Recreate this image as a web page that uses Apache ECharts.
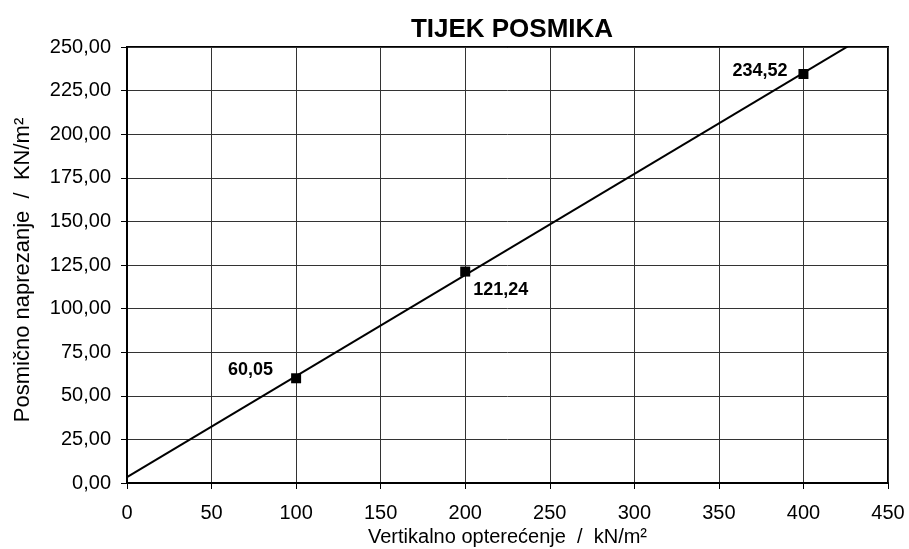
<!DOCTYPE html>
<html>
<head>
<meta charset="utf-8">
<script src="https://cdn.jsdelivr.net/npm/echarts@6/dist/echarts.min.js"></script>
<style>
  html, body { margin: 0; padding: 0; background: #fff; }
  #chart { width: 909px; height: 549px; }
</style>
</head>
<body>
<div id="chart"></div>
<script>
// Measured shear stress at each vertical load
const loads = [100, 200, 400];
const shear = [60.05, 121.24, 234.52];

const xTicks = { min: 0, max: 450, interval: 50 };
const yTicks = { min: 0, max: 250, interval: 25 };

// Value label placement next to each point (side, pixel nudge)
const labelSide = ['left', 'right', 'left'];
const labelNudge = [[-13, -8], [-2, 18], [-6, -3]];

const fmt = v => v.toFixed(2).replace('.', ',');

// Least-squares trend line through the measured points
function linearFit(xs, ys) {
  const n = xs.length;
  const mx = xs.reduce((a, b) => a + b, 0) / n;
  const my = ys.reduce((a, b) => a + b, 0) / n;
  let sxy = 0, sxx = 0;
  for (let i = 0; i < n; i++) {
    sxy += (xs[i] - mx) * (ys[i] - my);
    sxx += (xs[i] - mx) * (xs[i] - mx);
  }
  const k = sxy / sxx;
  return { k, b: my - k * mx };
}
const fit = linearFit(loads, shear);
const trend = [[xTicks.min, fit.b], [xTicks.max, fit.b + fit.k * xTicks.max]];

const font = 'Liberation Sans, Arial, sans-serif';

const points = loads.map((x, i) => ({
  value: [x, shear[i]],
  label: { show: true, position: labelSide[i], offset: labelNudge[i], formatter: fmt(shear[i]) }
}));

const chart = echarts.init(document.getElementById('chart'));
chart.setOption({
  animation: false,
  backgroundColor: '#fff',
  title: {
    text: 'TIJEK POSMIKA',
    left: 507, top: 12, textAlign: 'center',
    textStyle: { fontFamily: font, fontSize: 26, fontWeight: 'bold', color: '#000' }
  },
  grid: {
    left: 127, right: 21, top: 47, bottom: 66,
    containLabel: false, outerBoundsMode: 'none',
    show: true, borderColor: '#000', borderWidth: 2, backgroundColor: 'transparent'
  },
  xAxis: {
    type: 'value', min: xTicks.min, max: xTicks.max, interval: xTicks.interval,
    name: 'Vertikalno opterećenje  /  kN/m²',
    nameLocation: 'middle', nameGap: 44,
    nameTextStyle: { fontFamily: font, fontSize: 20, color: '#000' },
    axisLine: { show: true, lineStyle: { color: '#000', width: 2 } },
    axisTick: { show: true, length: 6, lineStyle: { color: '#000' } },
    axisLabel: { fontFamily: font, fontSize: 20, color: '#000', margin: 20 },
    splitLine: { show: true, lineStyle: { color: '#333', width: 1 } }
  },
  yAxis: {
    type: 'value', min: yTicks.min, max: yTicks.max, interval: yTicks.interval,
    name: 'Posmično naprezanje  /  KN/m²',
    nameLocation: 'middle', nameGap: 93,
    nameTextStyle: { fontFamily: font, fontSize: 22, color: '#000', padding: [0, 10, 0, 0] },
    axisLine: { show: true, lineStyle: { color: '#000', width: 2 } },
    axisTick: { show: true, length: 6, lineStyle: { color: '#000' } },
    axisLabel: { fontFamily: font, fontSize: 20, color: '#000', margin: 16, formatter: v => fmt(v) },
    splitLine: { show: true, lineStyle: { color: '#333', width: 1 } }
  },
  series: [
    {
      type: 'line', data: trend, clip: true, symbol: 'none',
      lineStyle: { color: '#000', width: 2 }, z: 3
    },
    {
      type: 'scatter', data: points, symbol: 'rect', symbolSize: 10,
      itemStyle: { color: '#000', opacity: 1 }, z: 4,
      label: { fontFamily: font, fontSize: 18, fontWeight: 'bold', color: '#000' }
    }
  ]
});
</script>
</body>
</html>
